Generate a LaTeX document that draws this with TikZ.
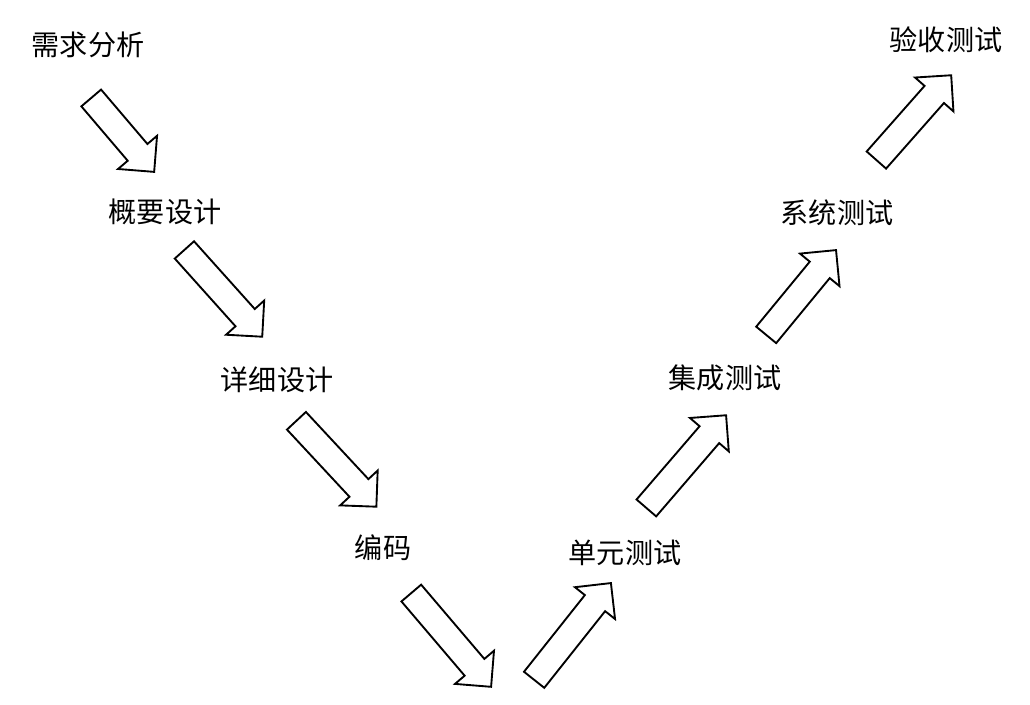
\documentclass[tikz,border=0pt]{standalone}
\usepackage{fontspec}
\newfontfamily\cjk{Noto Sans CJK SC}
\usetikzlibrary{shapes.arrows,calc}
\begin{document}
\begin{tikzpicture}[x=0.3mm,y=-0.3mm,
  lbl/.style={font=\cjk\fontsize{24pt}{26pt}\selectfont, inner sep=0pt},
  barrow/.style={single arrow, draw=black, line width=1.6pt, fill=white,
    inner xsep=0pt, inner ysep=3.6mm, single arrow head extend=3.8mm,
    single arrow tip angle=90, outer sep=0pt}]
\useasboundingbox (0,0) rectangle (1030,705);
\node[lbl] (n1) at (88,45) {需求分析};
\node[lbl] (n2) at (165,212) {概要设计};
\node[lbl] (n3) at (277,380) {详细设计};
\node[lbl] (n4) at (383,548) {编码};
\node[lbl] (n5) at (625,553) {单元测试};
\node[lbl] (n6) at (725,378) {集成测试};
\node[lbl] (n7) at (837,213) {系统测试};
\node[lbl] (n8) at (946,40) {验收测试};
\newcommand\blkarrow[2]{%
  \path let \p1=($(#2)-(#1)$), \n1={atan2(\y1,\x1)}, \n2={veclen(\x1,\y1)} in
    node[barrow, minimum height=\n2, rotate=\n1] at ($(#1)!0.5!(#2)$) {};}
\coordinate (a1) at (87,93);   \coordinate (b1) at (150,167);
\coordinate (a2) at (180,245); \coordinate (b2) at (258,332);
\coordinate (a3) at (292,416); \coordinate (b3) at (372,502);
\coordinate (a4) at (407,588); \coordinate (b4) at (487,682);
\coordinate (a5) at (530,685); \coordinate (b5) at (607,588);
\coordinate (a6) at (642,513); \coordinate (b6) at (722,420);
\coordinate (a7) at (762,340); \coordinate (b7) at (832,255);
\coordinate (a8) at (872,165); \coordinate (b8) at (947,80);
\blkarrow{a1}{b1}\blkarrow{a2}{b2}\blkarrow{a3}{b3}\blkarrow{a4}{b4}
\blkarrow{a5}{b5}\blkarrow{a6}{b6}\blkarrow{a7}{b7}\blkarrow{a8}{b8}
\end{tikzpicture}
\end{document}
